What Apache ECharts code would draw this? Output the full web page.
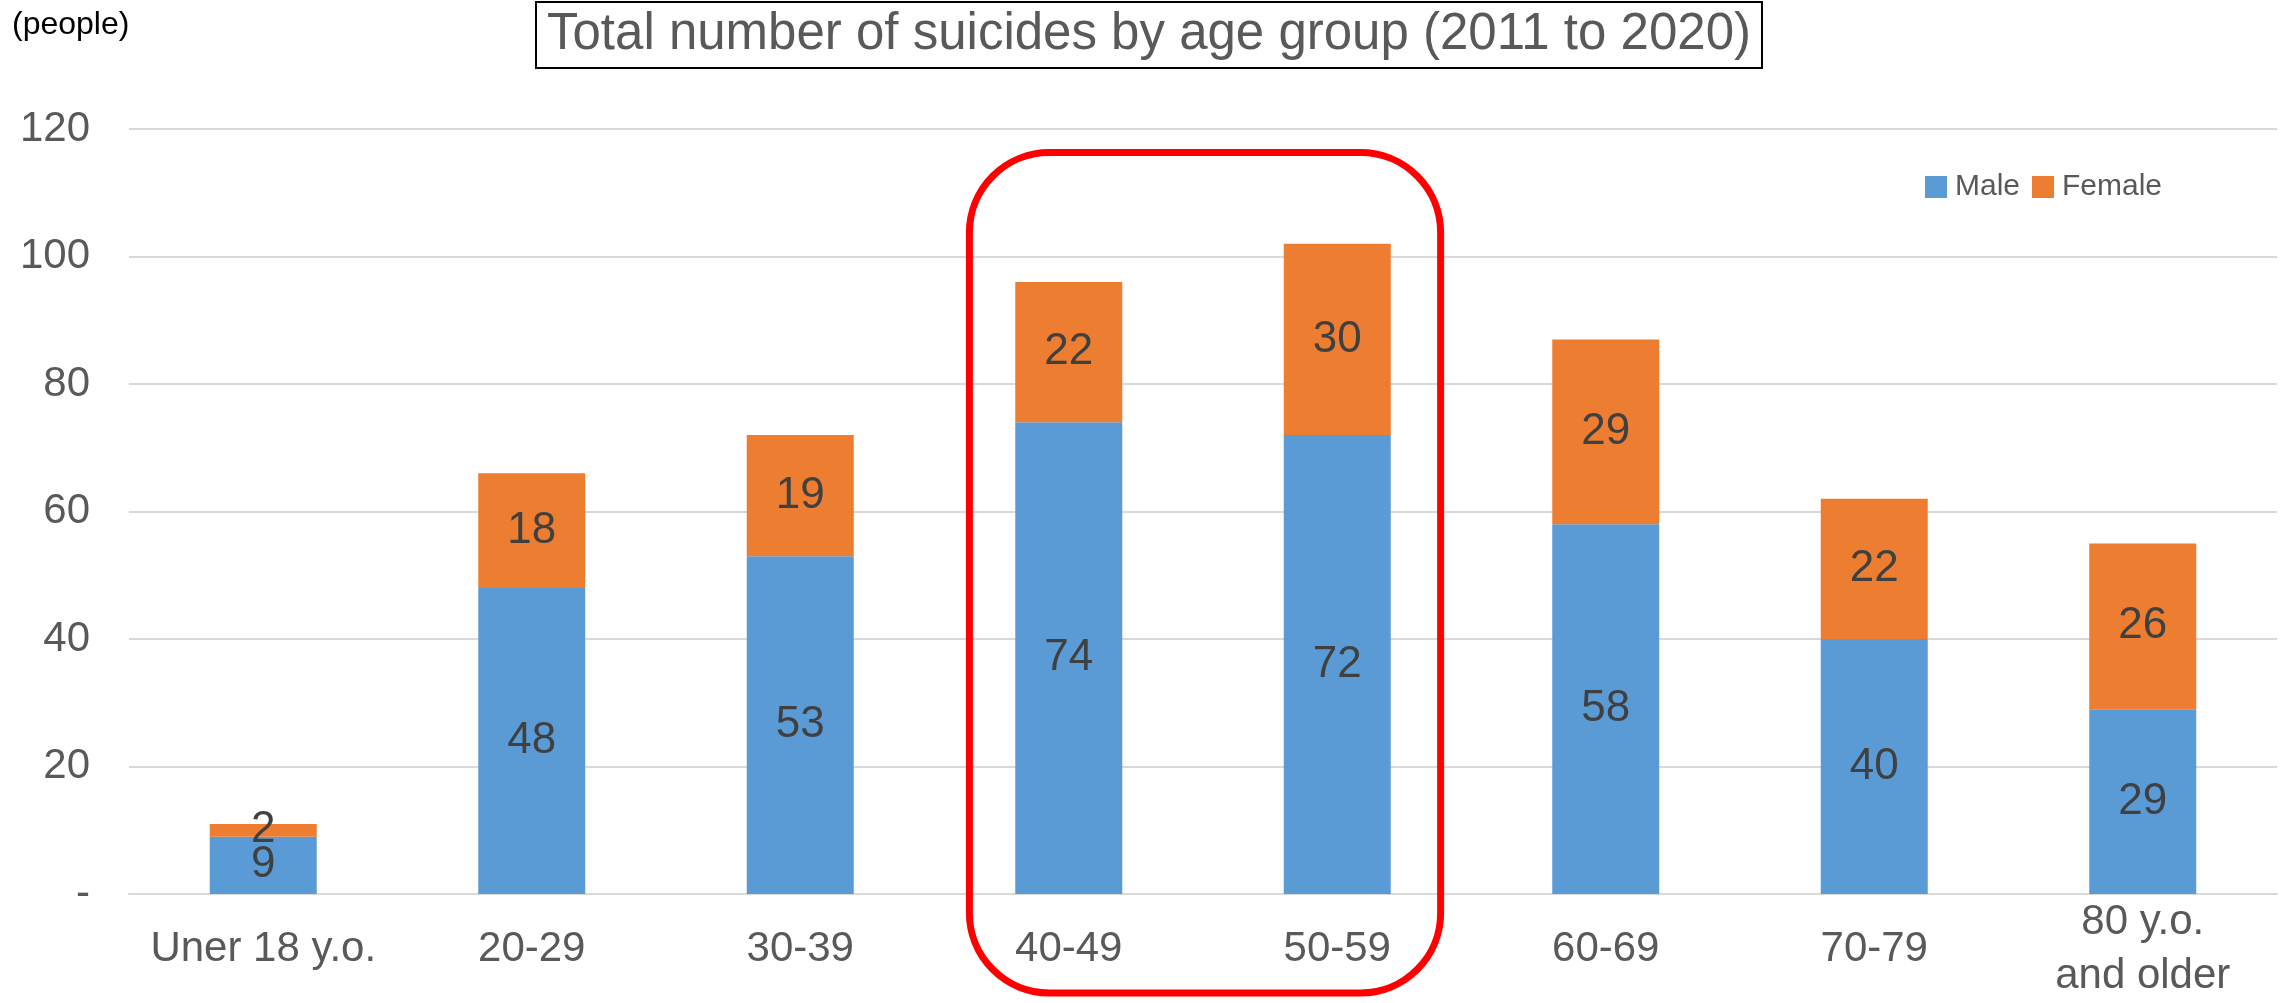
<!DOCTYPE html>
<html>
<head>
<meta charset="utf-8">
<script src="https://cdn.jsdelivr.net/npm/echarts@6/dist/echarts.min.js"></script>
<style>
  html, body { margin: 0; padding: 0; background: #ffffff; }
  #chart { width: 2284px; height: 1003px; }
</style>
</head>
<body>
<div id="chart"></div>
<script>
const categories = ['Uner 18 y.o.', '20-29', '30-39', '40-49', '50-59', '60-69', '70-79', '80 y.o.\nand older'];
const maleValues = [9, 48, 53, 74, 72, 58, 40, 29];
const femaleValues = [2, 18, 19, 22, 30, 29, 22, 26];
const yTicks = { min: 0, max: 120, interval: 20 };
const highlighted = ['40-49', '50-59'];

const FONT = '"Liberation Sans", Arial, sans-serif';
const chart = echarts.init(document.getElementById('chart'), null, { renderer: 'canvas' });

const option = {
  backgroundColor: '#ffffff',
  animation: false,
  textStyle: { fontFamily: FONT },
  title: [
    {
      text: 'Total number of suicides by age group (2011 to 2020)',
      left: 536,
      top: 2,
      padding: [6, 11],
      borderColor: '#000000',
      borderWidth: 2,
      textStyle: { fontFamily: FONT, fontSize: 51, fontWeight: 'normal', color: '#595959', lineHeight: 54 }
    },
    {
      text: '(people)',
      left: 12,
      top: 9,
      padding: 0,
      textStyle: { fontFamily: FONT, fontSize: 32, fontWeight: 'normal', color: '#000000' }
    }
  ],
  legend: {
    left: 1920,
    top: 167,
    itemWidth: 22,
    itemHeight: 22,
    itemGap: 12,
    icon: 'rect',
    textStyle: { fontFamily: FONT, fontSize: 30, color: '#595959', padding: [0, 0, 0, 3] },
    data: ['Male', 'Female']
  },
  grid: { left: 129, right: 7, top: 129, bottom: 103, containLabel: false },
  xAxis: {
    type: 'category',
    data: categories,
    axisTick: { show: false },
    axisLine: { show: true, lineStyle: { color: '#d9d9d9', width: 2 } },
    axisLabel: {
      interval: 0,
      fontFamily: FONT,
      fontSize: 42,
      color: '#595959',
      margin: 55,
      verticalAlign: 'middle',
      lineHeight: 54
    }
  },
  yAxis: {
    type: 'value',
    min: yTicks.min,
    max: yTicks.max,
    interval: yTicks.interval,
    axisLine: { show: false },
    axisTick: { show: false },
    splitLine: { lineStyle: { color: '#d9d9d9', width: 2 } },
    axisLabel: {
      fontFamily: FONT,
      fontSize: 42,
      color: '#595959',
      margin: 39,
      formatter: v => (v === 0 ? '-' : String(v))
    }
  },
  series: [
    {
      name: 'Male',
      type: 'bar',
      stack: 'total',
      barWidth: 107,
      data: maleValues,
      itemStyle: { color: '#5B9BD5' },
      label: { show: true, position: 'inside', fontFamily: FONT, fontSize: 44, color: '#404040' }
    },
    {
      name: 'Female',
      type: 'bar',
      stack: 'total',
      barWidth: 107,
      data: femaleValues,
      itemStyle: { color: '#ED7D31' },
      label: { show: true, position: 'inside', fontFamily: FONT, fontSize: 44, color: '#404040' }
    }
  ]
};

chart.setOption(option);

// Red rounded highlight box around the highlighted categories (annotation anchored to axes)
function drawHighlight() {
  const c1 = chart.convertToPixel({ xAxisIndex: 0 }, highlighted[0]);
  const c2 = chart.convertToPixel({ xAxisIndex: 0 }, highlighted[1]);
  const catW = c2 - c1;
  const yTop = chart.convertToPixel({ yAxisIndex: 0 }, 116.3);
  const yZero = chart.convertToPixel({ yAxisIndex: 0 }, 0);
  const x = c1 - 0.37 * catW;
  const w = (c2 + 0.385 * catW) - x;
  const h = (yZero + 99) - yTop;
  chart.setOption({
    graphic: [{
      type: 'rect',
      z: 100,
      shape: { x: x, y: yTop, width: w, height: h, r: 80 },
      style: { fill: 'none', stroke: '#FF0000', lineWidth: 7 }
    }]
  });
}
drawHighlight();
</script>
</body>
</html>
